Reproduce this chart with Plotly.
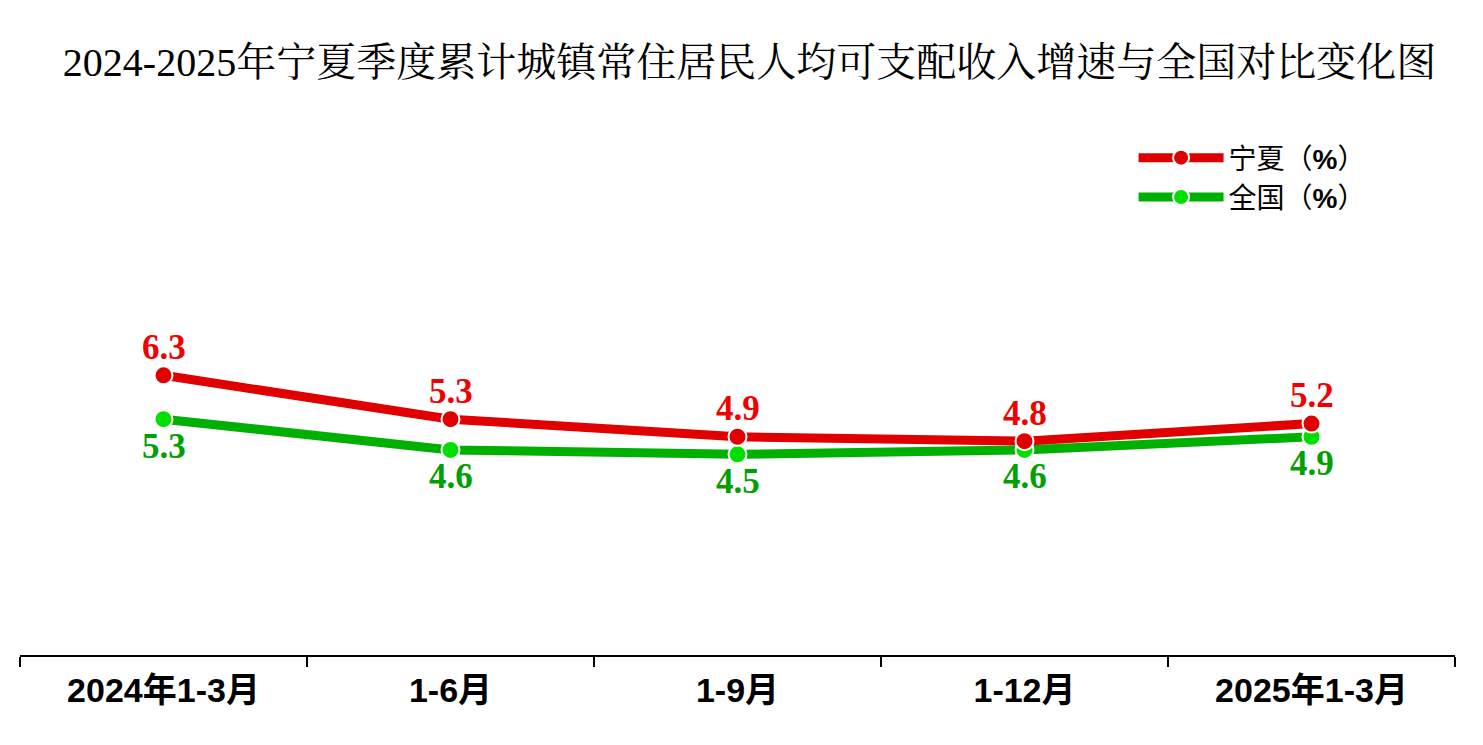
import plotly.graph_objects as go

categories = ["2024年1-3月", "1-6月", "1-9月", "1-12月", "2025年1-3月"]
ningxia = [6.3, 5.3, 4.9, 4.8, 5.2]
national = [5.3, 4.6, 4.5, 4.6, 4.9]

title_text = "2024-2025年宁夏季度累计城镇常住居民人均可支配收入增速与全国对比变化图"
serif = "Times New Roman, Liberation Serif, Noto Serif CJK SC, Noto Sans CJK SC, serif"
sans = "Arial, Liberation Sans, Noto Sans CJK SC, sans-serif"

fig = go.Figure()
fig.add_trace(go.Scatter(
    x=categories, y=national, name="全国（<b>%</b>）", mode="lines+markers",
    line=dict(color="#00B000", width=9),
    marker=dict(color="#00E000", size=18, line=dict(color="white", width=2)),
    legendrank=2,
))
fig.add_trace(go.Scatter(
    x=categories, y=ningxia, name="宁夏（<b>%</b>）", mode="lines+markers",
    line=dict(color="#E00000", width=9),
    marker=dict(color="#E00000", size=18, line=dict(color="white", width=2)),
    legendrank=1,
))

for cat, v in zip(categories, ningxia):
    fig.add_annotation(x=cat, y=v, text=f"{v:.1f}", showarrow=False, yshift=28,
                       font=dict(family=serif, size=35, color="#F00000", weight="bold"))
for cat, v in zip(categories, national):
    fig.add_annotation(x=cat, y=v, text=f"{v:.1f}", showarrow=False, yshift=-27,
                       font=dict(family=serif, size=35, color="#00A000", weight="bold"))

fig.update_layout(
    width=1483, height=745,
    margin=dict(l=12, r=36, t=117, b=98),
    paper_bgcolor="white", plot_bgcolor="white",
    title=dict(text=title_text, x=0.5, xanchor="center", y=0.927, yanchor="middle",
               font=dict(family=serif, size=40, color="black")),
    showlegend=True,
    legend=dict(x=0.776, y=0.985, xanchor="left", yanchor="top",
                font=dict(family=sans, size=28, color="black"),
                bgcolor="rgba(0,0,0,0)", tracegroupgap=0, itemwidth=85),
    xaxis=dict(
        type="category", range=[-0.5, 4.5], showgrid=False, zeroline=False,
        showline=True, linecolor="black", linewidth=2,
        ticks="outside", tickson="boundaries", ticklen=10, tickwidth=2, tickcolor="black",
        ticklabelstandoff=4,
        tickfont=dict(family=sans, size=34, color="black", weight="bold"),
    ),
    yaxis=dict(range=[-0.07, 12], visible=False, showgrid=False, zeroline=False),
)

fig.write_html("out.html")
